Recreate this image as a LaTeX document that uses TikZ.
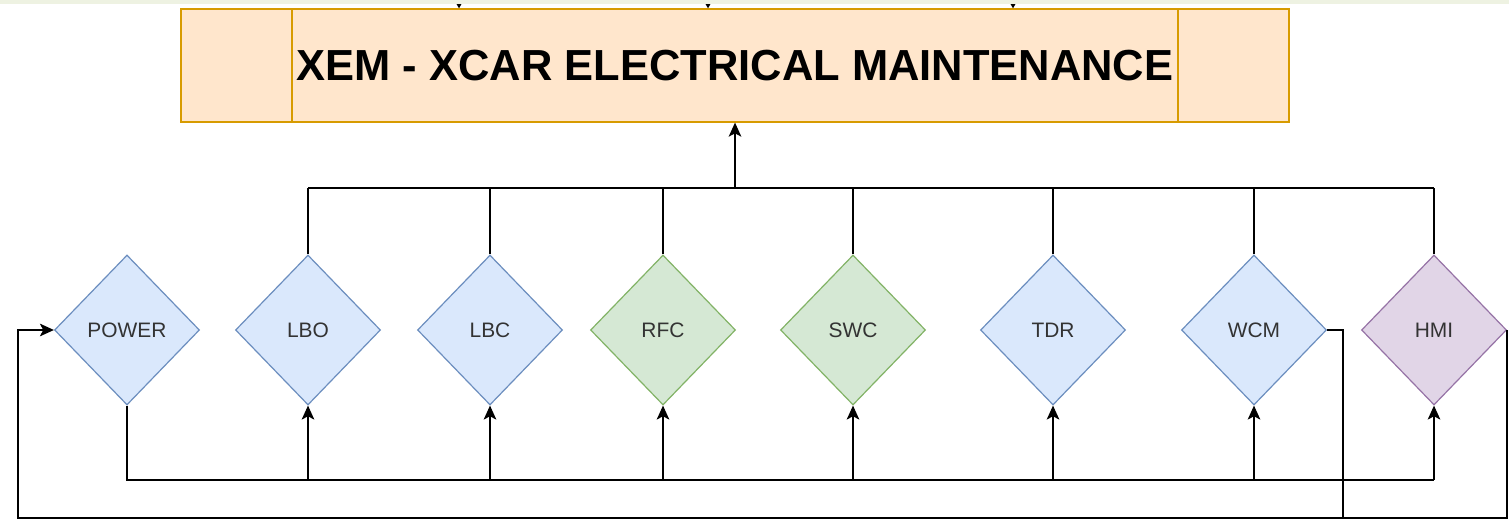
\documentclass[tikz,border=0pt]{standalone}
\usepackage{fontspec}
\setmainfont{Liberation Sans}
\usetikzlibrary{shapes.geometric,arrows.meta}
\definecolor{boxfill}{HTML}{FFE6CC}
\definecolor{boxline}{HTML}{D79B00}
\definecolor{bfill}{HTML}{DAE8FC}
\definecolor{bline}{HTML}{6C8EBF}
\definecolor{gfill}{HTML}{D5E8D4}
\definecolor{gline}{HTML}{82B366}
\definecolor{pfill}{HTML}{E1D5E7}
\definecolor{pline}{HTML}{9673A6}
\definecolor{lbl}{HTML}{333333}
\definecolor{strip}{HTML}{EEF2E2}
\tikzset{
  dia/.style={diamond, draw, line width=0.9pt, minimum width=108.75pt, minimum height=112.5pt, inner sep=0pt, text=lbl, font=\fontsize{15.7pt}{18pt}\selectfont},
  bluedia/.style={dia, fill=bfill, draw=bline},
  greendia/.style={dia, fill=gfill, draw=gline},
  purpledia/.style={dia, fill=pfill, draw=pline},
  conn/.style={line width=1pt, black},
  arr/.style={conn, -{Stealth[length=10.5pt, width=9.5pt, inset=2.5pt]}},
  smallarr/.style={conn, -{Stealth[length=4pt, width=4.5pt, inset=1pt]}},
  titlebox/.style={draw=boxline, fill=boxfill, line width=1pt, minimum width=831pt, minimum height=84.75pt, inner sep=0pt, font=\fontsize{32.6pt}{38pt}\selectfont\bfseries}
}
\begin{document}
\begin{tikzpicture}[x=0.75pt, y=-0.75pt]
\useasboundingbox (0,0) rectangle (1509,520);
\fill[white] (0,0) rectangle (1509,520);

\node[titlebox] (box) at (735,65.5) {\raisebox{-1.5pt}{XEM - XCAR ELECTRICAL MAINTENANCE}};
\draw[boxline, line width=1pt] (292,9) -- (292,122);
\draw[boxline, line width=1pt] (1178,9) -- (1178,122);

\node[bluedia] (power) at (127,330) {POWER};
\node[bluedia] (lbo) at (308,330) {LBO};
\node[bluedia] (lbc) at (490,330) {LBC};
\node[greendia] (rfc) at (663,330) {RFC};
\node[greendia] (swc) at (853,330) {SWC};
\node[bluedia] (tdr) at (1053,330) {TDR};
\node[bluedia] (wcm) at (1254,330) {WCM};
\node[purpledia] (hmi) at (1434,330) {HMI};

\coordinate (topbus) at (735,188);
\coordinate (botbus) at (127,480);
\coordinate (cR) at (1343,518);
\coordinate (cL) at (18,518);
\coordinate (t1) at (459,0);
\coordinate (t2) at (708,0);
\coordinate (t3) at (1013,0);

% cut-off arrows entering the title box from above
\draw[smallarr] (t1) -- (box.north -| t1);
\draw[smallarr] (t2) -- (box.north -| t2);
\draw[smallarr] (t3) -- (box.north -| t3);
\fill[strip] (0,0) rectangle (1509,4);

% top bus into title box
\draw[conn] (lbo.north |- topbus) -- (hmi.north |- topbus);
\foreach \n in {lbo,lbc,rfc,swc,tdr,wcm,hmi}{
  \draw[conn] (\n.north) -- (\n.north |- topbus);
}
\draw[arr] (topbus) -- (box.south);

% bottom bus from POWER
\draw[conn] (power.south) |- (hmi.south |- botbus);
\foreach \n in {lbo,lbc,rfc,swc,tdr,wcm,hmi}{
  \draw[arr] (\n.south |- botbus) -- (\n.south);
}

% outer loop back to POWER
\draw[arr] (wcm.east) -| (cR) -- (cL) |- (power.west);
\draw[conn] (hmi.east) |- (cR);
\end{tikzpicture}
\end{document}
